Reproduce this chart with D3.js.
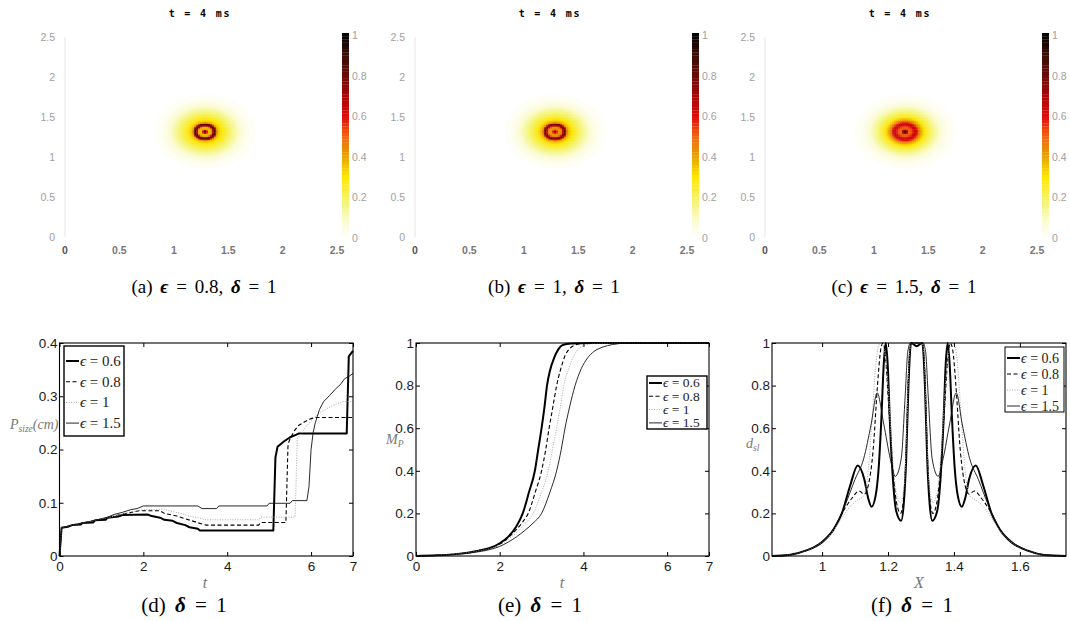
<!DOCTYPE html>
<html>
<head>
<meta charset="utf-8">
<script src="https://cdn.jsdelivr.net/npm/d3@7"></script>
<style>
  body { margin: 0; background: #fff; }
</style>
</head>
<body>
<svg id="fig" width="1070" height="621"></svg>
<script>
// ---- data ----
var epsLabels = ["0.6", "0.8", "1", "1.5"];
var mapEps = ["0.8", "1", "1.5"];
var mapTicks = [0, 0.5, 1, 1.5, 2, 2.5];
var barTicks = [0, 0.2, 0.4, 0.6, 0.8, 1];
var tTicks = [0, 2, 4, 6, 7];
var sizeTicks = [0, 0.1, 0.2, 0.3, 0.4];
var unitTicks = [0, 0.2, 0.4, 0.6, 0.8, 1];
var xTicksF = [1, 1.2, 1.4, 1.6];

// radial profile of the damage field around the blob centre (X, Y)
var blobCentre = [1.287, 1.32];
var ringRadius = [0, 0.015, 0.035, 0.06, 0.08, 0.095, 0.11, 0.125, 0.15, 0.19, 0.25, 0.32, 0.4, 0.5];
var ringA = [0.88, 0.7, 0.36, 0.38, 0.8, 0.88, 0.42, 0.35, 0.3, 0.24, 0.16, 0.08, 0.025, 0];
var ringB = [0.76, 0.62, 0.42, 0.44, 0.72, 0.84, 0.45, 0.37, 0.31, 0.24, 0.16, 0.08, 0.025, 0];
var ringC = [0.97, 0.8, 0.5, 0.52, 0.6, 0.65, 0.6, 0.5, 0.38, 0.27, 0.17, 0.08, 0.025, 0];

// (d) P_size vs t
var size06 = [[0,0],[0.05,0.053],[0.2,0.055],[0.3,0.058],[0.5,0.059],[0.55,0.062],[0.8,0.063],[0.85,0.067],[1.1,0.068],[1.15,0.072],[1.4,0.074],[1.5,0.077],[2.1,0.078],[2.2,0.075],[2.4,0.072],[2.5,0.068],[2.7,0.066],[2.8,0.062],[3.0,0.058],[3.1,0.054],[3.3,0.051],[3.35,0.048],[5.1,0.048],[5.15,0.185],[5.2,0.205],[5.35,0.215],[5.5,0.223],[5.65,0.228],[5.7,0.23],[6.85,0.23],[6.9,0.375],[7.0,0.385]];
var size08 = [[0,0],[0.05,0.053],[0.3,0.058],[0.55,0.062],[0.85,0.067],[1.15,0.072],[1.4,0.077],[1.6,0.08],[1.9,0.085],[2.4,0.085],[2.5,0.08],[2.8,0.075],[3.0,0.07],[3.2,0.065],[3.4,0.06],[3.5,0.058],[4.75,0.058],[4.8,0.063],[5.4,0.063],[5.45,0.21],[5.5,0.22],[5.6,0.235],[5.7,0.245],[5.85,0.252],[6.0,0.258],[6.1,0.26],[7.0,0.26]];
var size10 = [[0,0],[0.05,0.053],[0.3,0.058],[0.55,0.062],[0.85,0.067],[1.15,0.072],[1.4,0.077],[1.7,0.083],[2.0,0.087],[2.5,0.088],[2.6,0.085],[2.9,0.08],[3.1,0.075],[3.3,0.072],[3.5,0.068],[4.75,0.068],[4.8,0.073],[5.62,0.073],[5.67,0.22],[5.75,0.228],[5.9,0.245],[6.1,0.262],[6.3,0.273],[6.5,0.282],[6.75,0.29],[7.0,0.29]];
var size15 = [[0,0],[0.05,0.053],[0.3,0.058],[0.55,0.062],[0.85,0.067],[1.15,0.073],[1.3,0.078],[1.5,0.082],[1.7,0.087],[1.85,0.089],[2.0,0.094],[3.3,0.094],[3.4,0.089],[3.75,0.089],[3.8,0.094],[4.95,0.094],[5.0,0.099],[5.5,0.099],[5.55,0.104],[5.9,0.104],[5.95,0.13],[6.0,0.2],[6.05,0.232],[6.1,0.25],[6.2,0.275],[6.3,0.29],[6.45,0.302],[6.6,0.315],[6.7,0.322],[6.8,0.333],[6.9,0.337],[7.0,0.343]];

// (e) M_P vs t
var mass06 = [[0,0],[0.5,0.003],[1,0.01],[1.5,0.025],[1.8,0.04],[2.0,0.06],[2.2,0.09],[2.4,0.14],[2.55,0.2],[2.7,0.3],[2.84,0.4],[2.92,0.5],[3.0,0.6],[3.07,0.7],[3.13,0.8],[3.2,0.87],[3.3,0.93],[3.4,0.97],[3.5,0.99],[3.7,0.998],[4.2,1],[7,1]];
var mass08 = [[0,0],[0.5,0.003],[1,0.01],[1.5,0.024],[1.8,0.038],[2.0,0.055],[2.2,0.085],[2.4,0.125],[2.55,0.16],[2.68,0.2],[2.85,0.3],[3.0,0.4],[3.1,0.5],[3.18,0.6],[3.27,0.7],[3.36,0.8],[3.46,0.88],[3.56,0.94],[3.68,0.975],[3.8,0.99],[4.0,0.998],[4.4,1],[7,1]];
var mass10 = [[0,0],[0.5,0.003],[1,0.01],[1.5,0.023],[1.8,0.036],[2.0,0.052],[2.2,0.078],[2.4,0.11],[2.6,0.15],[2.8,0.2],[3.0,0.3],[3.16,0.4],[3.26,0.5],[3.36,0.6],[3.45,0.7],[3.53,0.8],[3.65,0.88],[3.77,0.94],[3.9,0.975],[4.05,0.99],[4.3,0.998],[4.7,1],[7,1]];
var mass15 = [[0,0],[0.5,0.003],[1,0.009],[1.5,0.02],[1.8,0.032],[2.0,0.045],[2.2,0.065],[2.4,0.09],[2.6,0.12],[2.8,0.155],[3.0,0.2],[3.2,0.3],[3.36,0.4],[3.47,0.5],[3.56,0.6],[3.67,0.7],[3.8,0.8],[3.95,0.88],[4.1,0.93],[4.25,0.96],[4.45,0.98],[4.7,0.993],[5.0,0.999],[5.5,1],[7,1]];

// (f) d_sl vs X
var dsl06 = [[0.848,0],[0.9,0.005],[0.95,0.025],[1.0,0.065],[1.035,0.125],[1.06,0.2],[1.085,0.33],[1.108,0.425],[1.128,0.36],[1.14,0.27],[1.15,0.231],[1.162,0.28],[1.172,0.42],[1.18,0.65],[1.187,0.9],[1.193,1.0],[1.199,0.9],[1.206,0.62],[1.214,0.38],[1.225,0.21],[1.24,0.165],[1.248,0.25],[1.255,0.45],[1.262,0.8],[1.27,1.0],[1.287,0.985],[1.304,1.0],[1.312,0.8],[1.319,0.45],[1.326,0.25],[1.334,0.165],[1.349,0.21],[1.36,0.38],[1.368,0.62],[1.375,0.9],[1.381,1.0],[1.387,0.9],[1.394,0.65],[1.402,0.42],[1.412,0.28],[1.424,0.231],[1.434,0.27],[1.446,0.36],[1.466,0.425],[1.489,0.33],[1.514,0.2],[1.539,0.125],[1.574,0.065],[1.624,0.025],[1.674,0.005],[1.74,0]];
var dsl08 = [[0.848,0],[0.9,0.005],[0.95,0.025],[1.0,0.065],[1.035,0.125],[1.06,0.2],[1.09,0.27],[1.112,0.305],[1.128,0.29],[1.14,0.33],[1.155,0.5],[1.168,0.8],[1.178,0.97],[1.185,1.0],[1.193,0.92],[1.203,0.68],[1.214,0.42],[1.226,0.25],[1.238,0.2],[1.248,0.28],[1.255,0.5],[1.262,0.85],[1.27,1.0],[1.287,1.0],[1.304,1.0],[1.312,0.85],[1.319,0.5],[1.326,0.28],[1.336,0.2],[1.348,0.25],[1.36,0.42],[1.371,0.68],[1.381,0.92],[1.389,1.0],[1.396,0.97],[1.406,0.8],[1.419,0.5],[1.434,0.33],[1.446,0.29],[1.462,0.305],[1.484,0.27],[1.514,0.2],[1.539,0.125],[1.574,0.065],[1.624,0.025],[1.674,0.005],[1.74,0]];
var dsl10 = [[0.848,0],[0.9,0.005],[0.95,0.025],[1.0,0.065],[1.035,0.12],[1.06,0.18],[1.09,0.24],[1.11,0.265],[1.125,0.28],[1.14,0.4],[1.152,0.65],[1.162,0.88],[1.172,0.99],[1.18,1.0],[1.19,0.95],[1.2,0.8],[1.212,0.5],[1.225,0.3],[1.238,0.25],[1.25,0.35],[1.258,0.65],[1.265,0.95],[1.272,1.0],[1.287,1.0],[1.302,1.0],[1.309,0.95],[1.316,0.65],[1.324,0.35],[1.336,0.25],[1.349,0.3],[1.362,0.5],[1.374,0.8],[1.384,0.95],[1.394,1.0],[1.402,0.99],[1.412,0.88],[1.422,0.65],[1.434,0.4],[1.449,0.28],[1.464,0.265],[1.484,0.24],[1.514,0.18],[1.539,0.12],[1.574,0.065],[1.624,0.025],[1.674,0.005],[1.74,0]];
var dsl15 = [[0.848,0],[0.9,0.005],[0.95,0.025],[1.0,0.07],[1.04,0.14],[1.07,0.24],[1.1,0.36],[1.126,0.456],[1.149,0.62],[1.167,0.766],[1.187,0.62],[1.207,0.456],[1.222,0.374],[1.24,0.456],[1.252,0.75],[1.26,0.96],[1.268,1.0],[1.287,1.0],[1.306,1.0],[1.314,0.96],[1.322,0.75],[1.334,0.456],[1.352,0.374],[1.367,0.456],[1.387,0.62],[1.407,0.766],[1.425,0.62],[1.448,0.456],[1.474,0.36],[1.504,0.24],[1.534,0.14],[1.574,0.07],[1.624,0.025],[1.674,0.005],[1.74,0]];

// ---- look ----
var cmapStops = [0, 0.08, 0.18, 0.3, 0.4, 0.5, 0.6, 0.7, 0.8, 0.9, 1];
var cmapColors = ["#ffffff", "#fbfbd2", "#f4f470", "#ffe600", "#e6a300", "#f26410", "#dd0a0a", "#a80606", "#6a0a04", "#3a0c08", "#000000"];
var color = d3.scaleLinear().domain(cmapStops).range(cmapColors).clamp(true);

var styles = [
  { w: 2, dash: null, stroke: "#000" },
  { w: 1.1, dash: "4,2.5", stroke: "#000" },
  { w: 1, dash: "1,1.5", stroke: "#a8a8a8" },
  { w: 0.9, dash: null, stroke: "#111" }
];

var svg = d3.select("#fig");
var serif = "'Liberation Serif', 'DejaVu Serif', serif";
var sans = "'Liberation Sans', Arial, sans-serif";

// ---- top row: damage maps ----
function drawMap(i, profile) {
  var ox = i * 350;
  var g = svg.append("g");
  var x = d3.scaleLinear().domain([0, 2.5]).range([65 + ox, 337 + ox]);
  var y = d3.scaleLinear().domain([0, 2.5]).range([237, 37]);
  var prof = d3.scaleLinear().domain(ringRadius).range(profile).clamp(true);

  var step = 0.018;
  var cells = [];
  for (var a = -30; a <= 30; a++) {
    for (var b = -30; b <= 30; b++) {
      var gx = blobCentre[0] + a * step, gy = blobCentre[1] + b * step;
      var v = prof(Math.hypot(gx - blobCentre[0], gy - blobCentre[1]));
      if (v > 0.004) cells.push({ gx: gx, gy: gy, v: v });
    }
  }
  g.selectAll("rect.cell").data(cells).join("rect")
    .attr("class", "cell")
    .attr("x", function(d) { return x(d.gx - step / 2); })
    .attr("y", function(d) { return y(d.gy + step / 2); })
    .attr("width", x(step) - x(0) + 0.4)
    .attr("height", y(0) - y(step) + 0.4)
    .attr("fill", function(d) { return color(d.v); });

  g.append("line").attr("x1", x(0)).attr("x2", x(0)).attr("y1", y(0)).attr("y2", y(2.5))
    .attr("stroke", "#e6e6e6");

  g.selectAll("text.yt").data(mapTicks).join("text")
    .attr("x", x(0) - 10).attr("y", function(d) { return y(d) + 4; })
    .attr("text-anchor", "end").attr("font-family", sans).attr("font-size", 10.5)
    .attr("fill", "#a0a0a0").text(function(d) { return d; });
  g.selectAll("text.xt").data(mapTicks).join("text")
    .attr("x", function(d) { return x(d); }).attr("y", 254)
    .attr("text-anchor", "middle").attr("font-family", sans).attr("font-size", 10.5)
    .attr("font-weight", "bold")
    .attr("fill", function(d) { return d === 0 ? "#555" : "#777"; })
    .text(function(d) { return d; });

  // colour bar
  var cb = d3.scaleLinear().domain([0, 1]).range([238, 35]);
  var levels = d3.range(64).map(function(k) { return k / 63; });
  g.selectAll("rect.cb").data(levels).join("rect")
    .attr("x", 342 + ox).attr("width", 7)
    .attr("y", function(d) { return cb(d) - 2; }).attr("height", 3.4)
    .attr("fill", function(d) { return color(d); });
  g.selectAll("text.cbt").data(barTicks).join("text")
    .attr("x", 352 + ox).attr("y", function(d) { return cb(d) + 4; })
    .attr("font-family", sans).attr("font-size", 10.5).attr("fill", "#a0a0a0")
    .text(function(d) { return d; });

  g.append("text").attr("x", 200 + ox).attr("y", 17).attr("text-anchor", "middle")
    .attr("font-family", "'DejaVu Sans Mono', monospace").attr("font-size", 10).attr("font-weight", "bold")
    .attr("letter-spacing", 1.8).attr("fill", "#000").text("t =  4 ms");

  var cap = g.append("text").attr("x", 204 + ox).attr("y", 293).attr("text-anchor", "middle")
    .attr("font-family", serif).attr("font-size", 19).attr("word-spacing", 3).attr("fill", "#000");
  cap.append("tspan").text("(" + "abc"[i] + ")  ");
  cap.append("tspan").attr("font-style", "italic").attr("font-weight", "bold").text("ϵ");
  cap.append("tspan").text(" = " + mapEps[i] + ", ");
  cap.append("tspan").attr("font-style", "italic").attr("font-weight", "bold").text("δ");
  cap.append("tspan").text(" = 1");
}
drawMap(0, ringA);
drawMap(1, ringB);
drawMap(2, ringC);

// ---- bottom row: line plots ----
function drawPlot(opt) {
  var g = svg.append("g");
  var x = d3.scaleLinear().domain(opt.xd).range(opt.xr);
  var y = d3.scaleLinear().domain(opt.yd).range([556, 343]);
  var line = d3.line().x(function(d) { return x(d[0]); }).y(function(d) { return y(d[1]); })
    .curve(opt.curve);

  g.selectAll("path.series").data(opt.series).join("path")
    .attr("class", "series")
    .attr("d", line).attr("fill", "none")
    .attr("stroke", function(d, k) { return styles[k].stroke; })
    .attr("stroke-width", function(d, k) { return styles[k].w; })
    .attr("stroke-dasharray", function(d, k) { return styles[k].dash; })
    .attr("stroke-linejoin", "round");

  var fmt = function(d) { return d; };
  g.append("g").attr("transform", "translate(0," + y.range()[0] + ")")
    .call(d3.axisBottom(x).tickValues(opt.xt).tickSize(-4).tickPadding(5).tickFormat(fmt));
  g.append("g").attr("transform", "translate(0," + y.range()[1] + ")")
    .call(d3.axisTop(x).tickValues(opt.xt).tickSize(-4).tickFormat(""));
  g.append("g").attr("transform", "translate(" + x.range()[0] + ",0)")
    .call(d3.axisLeft(y).tickValues(opt.yt).tickSize(-4).tickPadding(2).tickFormat(fmt));
  g.append("g").attr("transform", "translate(" + x.range()[1] + ",0)")
    .call(d3.axisRight(y).tickValues(opt.yt).tickSize(-4).tickFormat(""));
  g.selectAll(".domain").remove();
  g.selectAll(".tick line").attr("stroke", "#000");
  g.selectAll(".tick text").attr("font-family", sans).attr("font-size", 13.5).attr("fill", "#1a1a1a");

  g.append("rect").attr("x", x.range()[0]).attr("y", y.range()[1])
    .attr("width", x.range()[1] - x.range()[0]).attr("height", y.range()[0] - y.range()[1])
    .attr("fill", "none").attr("stroke", "#000").attr("stroke-width", 1.1);

  // legend
  var L = opt.legend;
  g.append("rect").attr("x", L.x).attr("y", L.y).attr("width", L.w).attr("height", L.h)
    .attr("fill", "#fff").attr("stroke", "#000").attr("stroke-width", L.bw);
  epsLabels.forEach(function(lab, k) {
    var cy = L.y + L.first + k * L.gap;
    g.append("line").attr("x1", L.x + 2).attr("x2", L.x + 15).attr("y1", cy).attr("y2", cy)
      .attr("stroke", styles[k].stroke).attr("stroke-width", styles[k].w)
      .attr("stroke-dasharray", styles[k].dash);
    var t = g.append("text").attr("x", L.x + 16).attr("y", cy + L.fs * 0.33)
      .attr("font-family", serif).attr("font-size", L.fs).attr("fill", "#222");
    t.append("tspan").attr("font-style", "italic").text("ϵ");
    t.append("tspan").text(" = " + lab);
  });

  // axis names
  g.append("text").attr("x", opt.xlab[0]).attr("y", 588).attr("text-anchor", "middle")
    .attr("font-family", serif).attr("font-size", 16).attr("font-style", "italic").attr("fill", "#777")
    .text(opt.xname);
  var yl = g.append("text").attr("x", opt.ylab[0]).attr("y", opt.ylab[1])
    .attr("font-family", serif).attr("font-size", 14).attr("font-style", "italic").attr("fill", "#777");
  yl.append("tspan").text(opt.yname[0]);
  yl.append("tspan").attr("font-size", 9.5).attr("dy", 3).text(opt.yname[1]);
  if (opt.yname[2]) yl.append("tspan").attr("dy", -3).text(opt.yname[2]);

  var cap = g.append("text").attr("x", opt.cap).attr("y", 612).attr("text-anchor", "middle")
    .attr("font-family", serif).attr("font-size", 21).attr("word-spacing", 4).attr("fill", "#000");
  cap.append("tspan").text(opt.tag + "  ");
  cap.append("tspan").attr("font-style", "italic").attr("font-weight", "bold").text("δ");
  cap.append("tspan").text(" = 1");
}

drawPlot({
  xd: [0, 7], xr: [59.5, 353], yd: [0, 0.4], xt: tTicks, yt: sizeTicks,
  series: [size06, size08, size10, size15], curve: d3.curveLinear,
  legend: { x: 64, y: 346, w: 60, h: 90, first: 15, gap: 20.7, fs: 15, bw: 1.4 },
  xname: "t", xlab: [205], yname: ["P", "size", "(cm)"], ylab: [10, 429], cap: 184, tag: "(d)"
});
drawPlot({
  xd: [0, 7], xr: [416, 709], yd: [0, 1], xt: tTicks, yt: unitTicks,
  series: [mass06, mass08, mass10, mass15], curve: d3.curveMonotoneX,
  legend: { x: 647, y: 376, w: 60, h: 53, first: 7, gap: 13.3, fs: 13.5, bw: 1.4 },
  xname: "t", xlab: [562], yname: ["M", "P"], ylab: [386, 444], cap: 540, tag: "(e)"
});
drawPlot({
  xd: [0.848, 1.74], xr: [772, 1066], yd: [0, 1], xt: xTicksF, yt: unitTicks,
  series: [dsl06, dsl08, dsl10, dsl15], curve: d3.curveMonotoneX,
  legend: { x: 1005, y: 347, w: 59, h: 65, first: 11, gap: 16, fs: 14, bw: 1 },
  xname: "X", xlab: [919], yname: ["d", "sl"], ylab: [746, 448], cap: 912, tag: "(f)"
});
</script>
</body>
</html>
